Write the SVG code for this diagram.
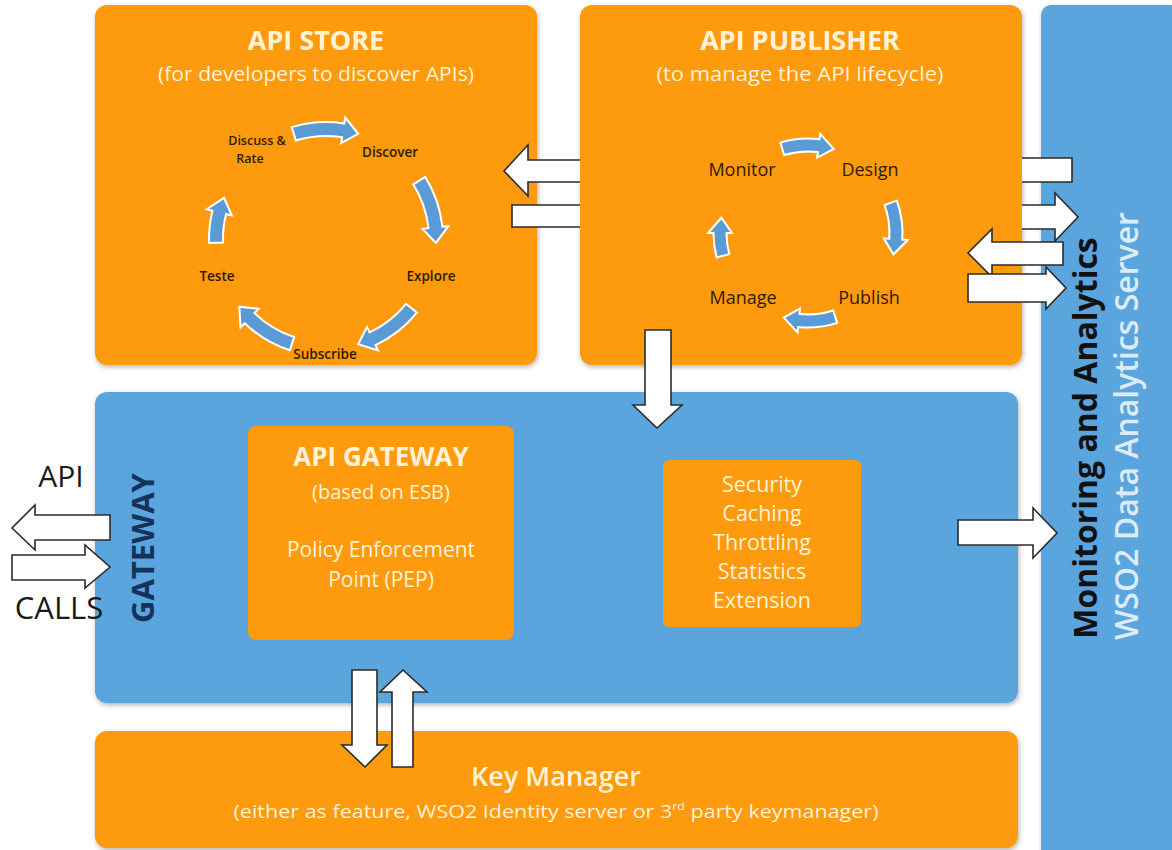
<svg xmlns="http://www.w3.org/2000/svg" xmlns:xlink="http://www.w3.org/1999/xlink" width="1172" height="850" viewBox="0 0 1172 850">
<defs>
<filter id="sh" x="-5%" y="-5%" width="110%" height="115%"><feDropShadow dx="1" dy="2" stdDeviation="2.5" flood-color="#000" flood-opacity="0.3"/></filter>
<path id="sArrL" d="M117,0 A117,117 0 0 1 105.16,51.29 L110.55,53.92 L91.19,61.51 L87.18,42.52 L92.58,45.15 A103,103 0 0 0 103,0 Z"/>
<path id="sArrS" d="M117,0 A117,117 0 0 1 112.47,32.25 L118.24,33.90 L100.49,44.74 L93.25,26.74 L99.01,28.39 A103,103 0 0 0 103,0 Z"/>
<path id="pArrL" d="M94.5,0 A94.5,94.5 0 0 1 86.33,38.43 L91.35,40.67 L72.95,49.21 L69.43,30.91 L74.45,33.15 A81.5,81.5 0 0 0 81.5,0 Z"/>
<path id="pArrS" d="M94.5,0 A94.5,94.5 0 0 1 91.28,24.46 L96.59,25.88 L79.75,37.19 L73.41,19.67 L78.72,21.09 A81.5,81.5 0 0 0 81.5,0 Z"/>
</defs>
<style>
.or{fill:#FE9A0E}
.bl{fill:#5AA5DD}
.t{font-family:"Open Sans","DejaVu Sans",sans-serif}
.w{fill:#FFF2D6}
.cyc{fill:#5B9BD5;stroke:#fff;stroke-width:2}
.blk{fill:#fff;stroke:#2b2b2b;stroke-width:1.6;stroke-linejoin:miter}
.lbl{fill:#2E1C00;font-family:"Open Sans","DejaVu Sans",sans-serif}
</style>
<rect width="1172" height="850" fill="#fff"/>

<g id="monitoring">
<rect class="bl" x="1041" y="5" width="140" height="860" rx="10" filter="url(#sh)"/>
<text class="t" transform="translate(1097,438) rotate(-90)" text-anchor="middle" font-size="32" font-weight="700" fill="#111">Monitoring and Analytics</text>
<text class="t" transform="translate(1138,426) rotate(-90)" text-anchor="middle" font-size="32" font-weight="600" fill="#DCEBF8">WSO2 Data Analytics Server</text>
</g>

<g id="api-store">
<rect class="or" x="95" y="5" width="442" height="360" rx="12" filter="url(#sh)"/>
<text class="t w" x="316" y="50" text-anchor="middle" font-size="27" font-weight="700">API STORE</text>
<text class="t w" x="316" y="81" text-anchor="middle" font-size="20" textLength="316" lengthAdjust="spacingAndGlyphs">(for developers to discover APIs)</text>
<g transform="translate(326,239)">
<use xlink:href="#sArrL" class="cyc" transform="rotate(-107)"/>
<use xlink:href="#sArrL" class="cyc" transform="rotate(-32)"/>
<use xlink:href="#sArrL" class="cyc" transform="rotate(39)"/>
<use xlink:href="#sArrL" class="cyc" transform="rotate(108)"/>
<use xlink:href="#sArrS" class="cyc" transform="rotate(178)"/>
</g>
<g class="lbl" font-size="13.5" font-weight="600" text-anchor="middle">
<text x="257" y="145" font-size="12.5">Discuss &amp;</text>
<text x="250" y="163" font-size="12.5">Rate</text>
<text x="390" y="157">Discover</text>
<text x="431" y="281">Explore</text>
<text x="217" y="281">Teste</text>
<text x="325" y="359">Subscribe</text>
</g>
</g>

<g id="api-publisher">
<rect class="or" x="580" y="5" width="442" height="360" rx="12" filter="url(#sh)"/>
<text class="t w" x="800" y="50" text-anchor="middle" font-size="27" font-weight="700">API PUBLISHER</text>
<text class="t w" x="800" y="81" text-anchor="middle" font-size="20" textLength="287" lengthAdjust="spacingAndGlyphs">(to manage the API lifecycle)</text>
<g transform="translate(808,233)">
<use xlink:href="#pArrL" class="cyc" transform="rotate(-107)"/>
<use xlink:href="#pArrL" class="cyc" transform="rotate(-20)"/>
<use xlink:href="#pArrL" class="cyc" transform="rotate(72)"/>
<use xlink:href="#pArrS" class="cyc" transform="rotate(165)"/>
</g>
<g class="lbl" font-size="18" text-anchor="middle">
<text x="742" y="176">Monitor</text>
<text x="870" y="176">Design</text>
<text x="869" y="304">Publish</text>
<text x="743" y="304">Manage</text>
</g>
</g>

<g id="gateway">
<rect class="bl" x="95" y="392" width="923" height="311" rx="12" filter="url(#sh)"/>
<text class="t" transform="translate(154,548) rotate(-90)" text-anchor="middle" font-size="31" font-weight="700" fill="#14325A">GATEWAY</text>
</g>

<g id="api-gateway">
<rect class="or" x="248" y="426" width="266" height="214" rx="8"/>
<text class="t w" x="381" y="466" text-anchor="middle" font-size="26" font-weight="700">API GATEWAY</text>
<text class="t w" x="381" y="499" text-anchor="middle" font-size="20">(based on ESB)</text>
<text class="t w" x="381" y="557" text-anchor="middle" font-size="21">Policy Enforcement</text>
<text class="t w" x="381" y="587" text-anchor="middle" font-size="21">Point (PEP)</text>
</g>

<g id="policies">
<rect class="or" x="663" y="460" width="198" height="167" rx="6"/>
<g class="t w" font-size="21.5" text-anchor="middle">
<text x="762" y="492">Security</text>
<text x="762" y="521">Caching</text>
<text x="762" y="550">Throttling</text>
<text x="762" y="579">Statistics</text>
<text x="762" y="608">Extension</text>
</g>
</g>

<g id="key-manager">
<rect class="or" x="95" y="731" width="923" height="117" rx="12" filter="url(#sh)"/>
<text class="t w" x="556" y="786" text-anchor="middle" font-size="27" font-weight="600">Key Manager</text>
<text class="t w" x="556" y="818" text-anchor="middle" font-size="19" textLength="645" lengthAdjust="spacingAndGlyphs">(either as feature, WSO2 Identity server or 3<tspan font-size="11" dy="-8">rd</tspan><tspan dy="8"> party keymanager)</tspan></text>
</g>

<g id="api-calls">
<text class="t" x="61" y="487" text-anchor="middle" font-size="30" fill="#1a1a1a">API</text>
<text class="t" x="59" y="619" text-anchor="middle" font-size="31" fill="#1a1a1a">CALLS</text>
</g>

<g id="connectors" class="blk">
<path d="M580,160 L528,160 L528,145 L504,171 L528,196 L528,182 L580,182"/>
<path d="M580,205 L512,205 L512,227 L580,227"/>
<path d="M1022,158 L1072,158 L1072,182 L1022,182"/>
<path d="M1022,205 L1055,205 L1055,193 L1078,217 L1055,241 L1055,229 L1022,229"/>
<path d="M1063,242 L992,242 L992,229 L968,253 L992,277 L992,265 L1063,265 Z"/>
<path d="M968,274 L1046,274 L1046,267 L1066,288 L1046,309 L1046,302 L968,302 Z"/>
<path d="M645,330 L671,330 L671,405 L682,405 L657,428 L633,405 L645,405 Z"/>
<path d="M958,520 L1033,520 L1033,508 L1057,533 L1033,558 L1033,545 L958,545 Z"/>
<path d="M110,515 L35,515 L35,505 L12,528 L35,550 L35,540 L110,540 Z"/>
<path d="M12,555 L85,555 L85,545 L110,567 L85,588 L85,580 L12,580 Z"/>
<path d="M352,670 L377,670 L377,745 L387,745 L365,767 L342,745 L352,745 Z"/>
<path d="M392,767 L392,692 L380,692 L403,670 L427,692 L413,692 L413,767 Z"/>
</g>
</svg>
